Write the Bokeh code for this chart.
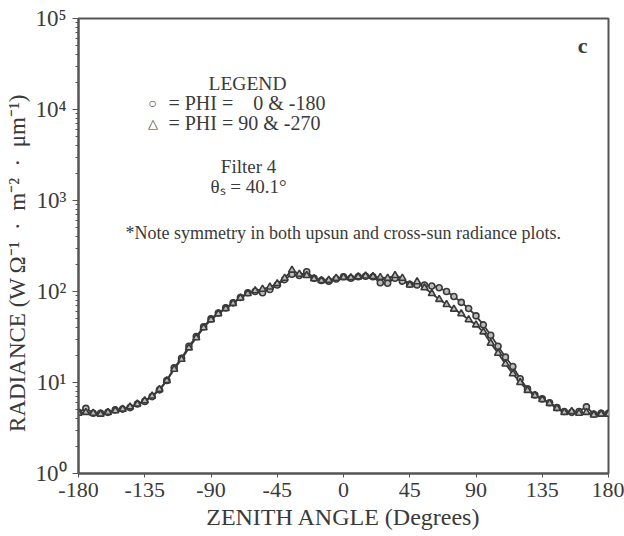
import numpy as np
from bokeh.plotting import figure
from bokeh.models import FixedTicker, Label, ColumnDataSource
from bokeh.embed import file_html
from bokeh.resources import INLINE

# Zenith angle (degrees), 5-degree steps
zenith = list(range(-180, 181, 5))

# PHI = 0 & -180 (circles)
phi_0_180 = [4.7, 5.2, 4.6, 4.6, 4.7, 5.0, 5.1, 5.3, 5.8, 6.2,
             7.0, 8.3, 10.5, 14.5, 18.5, 25, 32, 41, 50, 58,
             66, 75, 86, 97, 100, 97, 105, 118, 135, 155,
             150, 165, 140, 132, 130, 137, 145, 140, 145, 147,
             145, 125, 123, 140, 130, 120, 118, 118, 115, 110,
             100, 88, 76, 65, 54, 43, 33, 25, 19, 15,
             11, 8.5, 7.3, 6.6, 6.0, 5.3, 4.8, 4.7, 4.8, 5.4,
             4.5, 4.6, 4.6]

# PHI = 90 & -270 (triangles)
phi_90_270 = [4.6, 4.7, 4.6, 4.5, 4.7, 4.9, 5.1, 5.4, 5.8, 6.3,
              7.1, 8.4, 10.5, 14, 18, 24, 31, 40, 49, 57,
              65, 74, 85, 95, 102, 106, 112, 122, 140, 172,
              155, 150, 138, 132, 133, 140, 143, 142, 145, 148,
              146, 143, 140, 150, 140, 118, 128, 110, 95, 82,
              72, 64, 57, 49, 43, 36, 27, 21, 16, 12.5,
              10, 8.2, 7.2, 6.5, 5.9, 5.2, 4.7, 4.8, 4.6, 4.7,
              4.4, 4.5, 4.5]

x_ticks = [-180, -135, -90, -45, 0, 45, 90, 135, 180]
y_ticks = [1, 10, 100, 1000, 10000, 100000]
y_tick_labels = ["10\u2070", "10\u00b9", "10\u00b2", "10\u00b3", "10\u2074", "10\u2075"]

FONT = "Liberation Serif"
INK = "#3a3a3a"

p = figure(width=624, height=536, y_axis_type="log",
           x_range=(-180, 180), y_range=(1, 1e5),
           output_backend="svg", toolbar_location=None,
           min_border_left=78, min_border_right=16,
           min_border_top=18, min_border_bottom=63)

p.background_fill_color = "white"
p.border_fill_color = "white"
p.grid.visible = False
p.outline_line_color = "#555555"
p.outline_line_width = 2

minor = [m * 10 ** e for e in range(0, 5) for m in range(2, 10)]
p.yaxis.ticker = FixedTicker(ticks=y_ticks, minor_ticks=minor)
p.yaxis.major_label_overrides = {t: l for t, l in zip(y_ticks, y_tick_labels)}
p.xaxis.ticker = FixedTicker(ticks=x_ticks)
p.xaxis.major_label_overrides = {t: str(t) for t in x_ticks}

for ax in (p.xaxis[0], p.yaxis[0]):
    ax.axis_line_color = "#555555"
    ax.axis_line_width = 2
    ax.major_tick_line_color = "#555555"
    ax.minor_tick_line_color = "#555555"
    ax.major_tick_in = 0
    ax.minor_tick_in = 0
    ax.major_label_text_font = FONT
    ax.major_label_text_color = INK
    ax.major_label_text_font_size = "22px"
    ax.axis_label_text_font = FONT
    ax.axis_label_text_color = INK
    ax.axis_label_text_font_style = "normal"

p.xaxis.axis_label_text_font_size = "24px"
p.yaxis.axis_label_text_font_size = "23px"
p.yaxis.major_label_text_font_size = "23px"
p.xaxis.major_tick_out = 4
p.yaxis.major_tick_out = 6
p.yaxis.minor_tick_out = 3
p.xaxis.major_label_standoff = 5
p.yaxis.major_label_standoff = 6
p.xaxis.axis_label = "ZENITH ANGLE (Degrees)"
p.yaxis.axis_label = ("RADIANCE (W\u2009\u03a9\u207b\u00b9\u2002\u00b7\u2002m\u207b\u00b2"
                      "\u2002\u00b7\u2002\u03bcm\u207b\u00b9)\u2003\u2002")
p.xaxis.axis_label_standoff = 4
p.yaxis.axis_label_standoff = 2

src = ColumnDataSource(dict(x=zenith, a=phi_0_180, b=phi_90_270))
p.line("x", "a", source=src, line_color=INK, line_width=1.8)
p.line("x", "b", source=src, line_color=INK, line_width=1.8)
p.scatter("x", "a", source=src, marker="circle", size=6,
          line_color=INK, line_width=1.6, fill_color="#bbbbbb")
p.scatter("x", "b", source=src, marker="triangle", size=7,
          line_color=INK, line_width=1.6, fill_color="#bbbbbb")

def lab(x, y, t, size="16px", align="left", style="normal"):
    p.add_layout(Label(x=x, y=y, text=t, text_font=FONT, text_font_size=size,
                       text_color=INK, text_align=align, text_baseline="middle",
                       text_font_style=style))

lab(-65.2, 19300, "LEGEND", size="19.5px", align="center")
lab(-129.7, 11650, "\u25cb", size="14px", align="center")
lab(-129.7, 7020, "\u25b3", size="13px", align="center")
lab(-118.9, 11650, "= PHI = \u00a0\u00a0\u00a00 & -180", size="20px")
lab(-118.9, 7020, "= PHI = 90 & -270", size="20px")
lab(-64.5, 2364, "Filter 4", size="19px", align="center")
lab(-64.5, 1425, "\u03b8\u209b = 40.1\u00b0", size="19px", align="center")
lab(-148.1, 434, "*Note symmetry in both upsun and cross-sun radiance plots.", size="18px")
lab(162.4, 50500, "c", size="22px", align="center", style="bold")

open("out.html", "w").write(file_html(p, INLINE))
